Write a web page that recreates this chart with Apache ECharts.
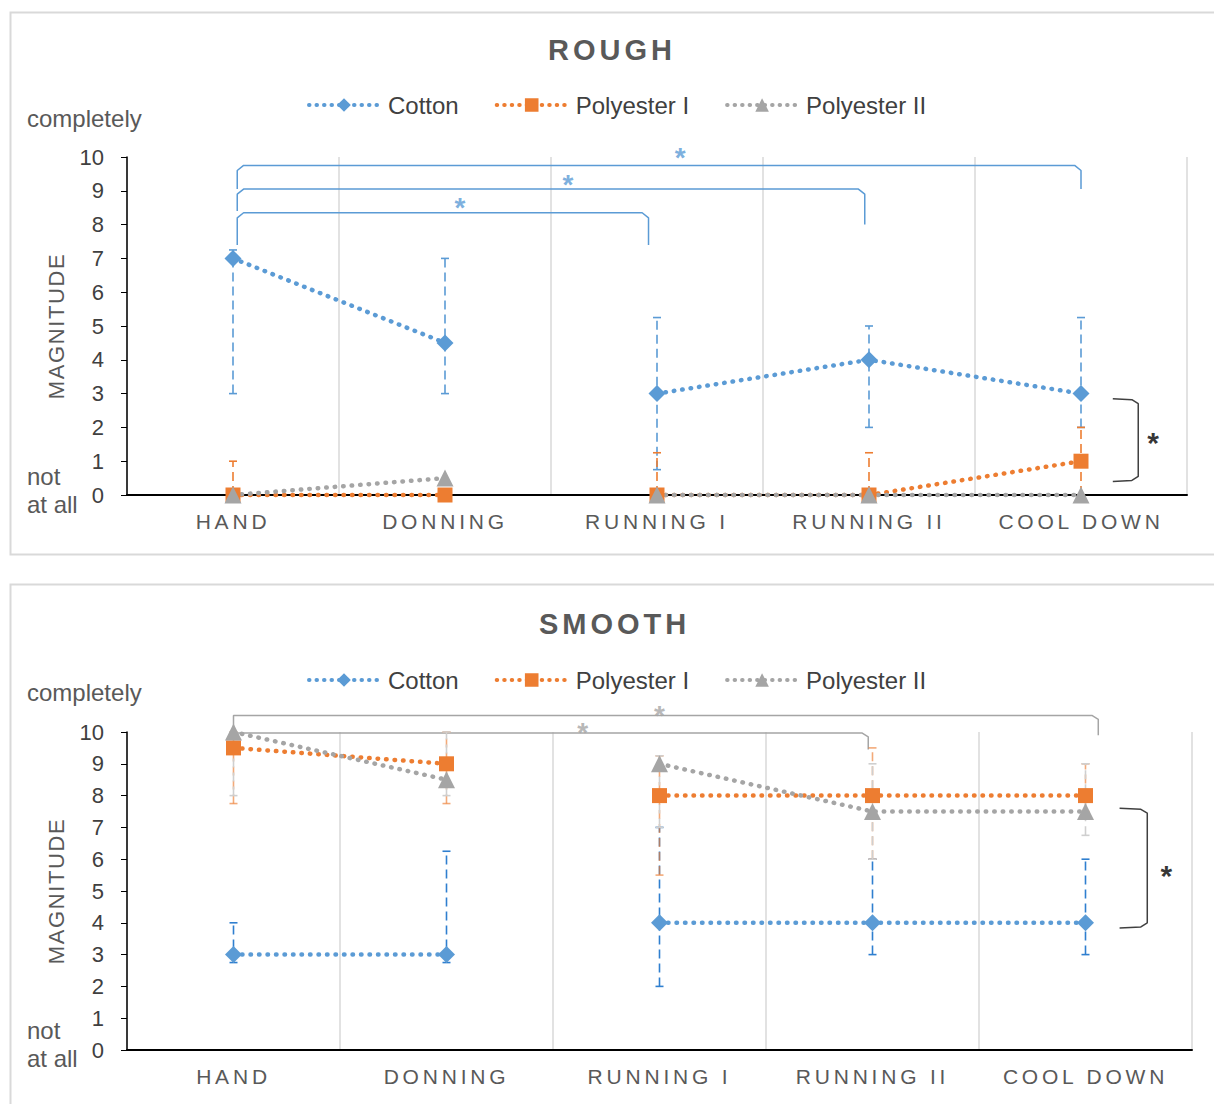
<!DOCTYPE html>
<html><head><meta charset="utf-8">
<script src="https://cdn.jsdelivr.net/npm/echarts@6/dist/echarts.min.js"></script>
<style>html,body{margin:0;padding:0;background:#fff}#c{width:1214px;height:1104px}</style>
</head><body><div id="c"></div>
<script>
const categories = ['HAND', 'DONNING', 'RUNNING I', 'RUNNING II', 'COOL DOWN'];
const yTicks = [0,1,2,3,4,5,6,7,8,9,10];
const seriesNames = ['Cotton', 'Polyester I', 'Polyester II'];

// ROUGH
const roughCotton     = [7, 4.5, 3, 4, 3];
const roughCottonLow  = [3, 3, 0.75, 2, 2];
const roughCottonHigh = [7.25, 7, 5.25, 5, 5.25];
const roughPolyI      = [0, 0, 0, 0, 1];
const roughPolyILow   = [0, 0, 0, 0, 0];
const roughPolyIHigh  = [1, 0, 1.25, 1.25, 2];
const roughPolyII     = [0, 0.5, 0, 0, 0];
const roughPolyIILow  = [0, 0.5, 0, 0, 0];
const roughPolyIIHigh = [0, 0.5, 0, 0, 0];

// SMOOTH
const smoothCotton     = [3, 3, 4, 4, 4];
const smoothCottonLow  = [2.75, 2.75, 2, 3, 3];
const smoothCottonHigh = [4, 6.25, 7, 6, 6];
const smoothPolyI      = [9.5, 9, 8, 8, 8];
const smoothPolyILow   = [7.75, 7.75, 5.5, 6, 7.5];
const smoothPolyIHigh  = [10, 10, 9.25, 9.5, 9];
const smoothPolyII     = [10, 8.5, 9, 7.5, 7.5];
const smoothPolyIILow  = [8, 8, 7, 6, 6.75];
const smoothPolyIIHigh = [10, 10, 9.25, 9, 9];

// significance brackets, in [category position, value]
const roughBrackets = [
  [[0.02, 7.4], [0.02, 8.2], [0.05, 8.35], [1.93, 8.35], [1.96, 8.2], [1.96, 7.4]],
  [[0.02, 8.4], [0.02, 8.9], [0.05, 9.05], [2.95, 9.05], [2.98, 8.9], [2.98, 8.0]],
  [[0.02, 9.05], [0.02, 9.6], [0.05, 9.75], [3.97, 9.75], [4.0, 9.6], [4.0, 9.05]]
];
const roughStars = [[1.07, 8.5], [1.58, 9.18], [2.11, 9.98]];
const roughSide = [[4.15, 2.85], [4.24, 2.82], [4.27, 2.7], [4.27, 0.55], [4.24, 0.43], [4.15, 0.4]];
const roughSideStar = [[4.34, 1.55]];

const smoothBrackets = [
  [[0.0, 10.0], [0.0, 10.52], [4.03, 10.52], [4.06, 10.4], [4.06, 9.9]],
  [[0.0, 9.97], [2.95, 9.97], [2.98, 9.85], [2.98, 9.45]]
];
const smoothStars = [[2.0, 10.52], [1.64, 9.98]];
const smoothSide = [[4.16, 7.6], [4.26, 7.57], [4.29, 7.45], [4.29, 4.0], [4.26, 3.87], [4.16, 3.84]];
const smoothSideStar = [[4.38, 5.5]];

const FONT = 'Liberation Sans';
const BLUE = '#5b9bd5', ORANGE = '#ed7d31', GRAY = '#a5a5a5';

function lineSegs(name, values, color, symbol, size, gi) {
  const segA = values.map((v, i) => i <= 1 ? v : null);
  const segB = values.map((v, i) => i >= 2 ? v : null);
  return [segA, segB].map(d => ({
    type: 'line', name: name, xAxisIndex: gi, yAxisIndex: gi, data: d,
    symbol: symbol, symbolSize: size, showSymbol: true, connectNulls: false,
    itemStyle: {color: color},
    lineStyle: {color: color, width: 4.5, type: [0.5, 8], cap: 'round'},
    z: 3, animation: false, clip: false
  }));
}

function errSeries(low, high, color, gi) {
  const data = categories.map((c, i) => [i, low[i], high[i]]);
  return {
    type: 'custom', xAxisIndex: gi, yAxisIndex: gi, data: data, z: 2, silent: true,
    encode: {x: 0, y: [1, 2]}, animation: false, clip: false,
    renderItem: function (params, api) {
      const x = api.value(0), lo = api.value(1), hi = api.value(2);
      if (lo === hi) return {type: 'group', children: []};
      const p1 = api.coord([x, lo]), p2 = api.coord([x, hi]);
      const st = {stroke: color, lineWidth: 1.6, lineDash: [9, 5], fill: null};
      const cs = {stroke: color, lineWidth: 1.6, fill: null};
      return {type: 'group', children: [
        {type: 'line', shape: {x1: p1[0], y1: p1[1], x2: p2[0], y2: p2[1]}, style: st},
        {type: 'line', shape: {x1: p1[0] - 4, y1: p1[1], x2: p1[0] + 4, y2: p1[1]}, style: cs},
        {type: 'line', shape: {x1: p2[0] - 4, y1: p2[1], x2: p2[0] + 4, y2: p2[1]}, style: cs}
      ]};
    }
  };
}

function bracket(pts, color, gi) {
  return {type: 'line', xAxisIndex: gi + 2, yAxisIndex: gi, data: pts, symbol: 'none',
    lineStyle: {color: color, width: 1.5}, clip: false, silent: true, animation: false, z: 1};
}
function stars(pts, color, gi, bold, size) {
  return {type: 'scatter', xAxisIndex: gi + 2, yAxisIndex: gi, data: pts, symbolSize: 1,
    itemStyle: {color: 'rgba(0,0,0,0)'}, silent: true, animation: false, clip: false, z: 4,
    label: {show: true, position: 'inside', formatter: '*', color: color,
      fontSize: size, fontWeight: bold ? 'bold' : 'normal', fontFamily: FONT}};
}

function xAx(gi) {
  return {type: 'category', gridIndex: gi, data: categories, boundaryGap: true,
    axisLine: {onZero: false, lineStyle: {color: '#000', width: 2}}, axisTick: {show: false},
    axisLabel: {fontSize: 21, color: '#595959', margin: 16, fontFamily: FONT},
    splitLine: {show: true, lineStyle: {color: '#d9d9d9', width: 1.5}}};
}
function yAx(gi) {
  return {type: 'value', gridIndex: gi, min: 0, max: 10, interval: 1,
    axisLine: {show: true, onZero: false, lineStyle: {color: '#000', width: 1.5}},
    axisTick: {show: true, length: 6, lineStyle: {color: '#000'}},
    axisLabel: {fontSize: 22, color: '#404040', margin: 23, fontFamily: FONT,
      formatter: v => String(yTicks[v])},
    splitLine: {show: false},
    name: 'MAGNITUDE', nameLocation: 'middle', nameGap: 60, nameRotate: 90,
    nameTextStyle: {fontSize: 22, color: '#595959', fontFamily: FONT}};
}
function legend(top) {
  return {data: seriesNames, top: top, left: 302, itemWidth: 70, itemHeight: 17, itemGap: 36,
    lineStyle: {width: 4, type: [0.5, 7], cap: 'round'},
    textStyle: {fontSize: 24, color: '#404040', fontFamily: FONT, padding: [0, 0, 0, 4]}, selectedMode: false};
}
function sideText(txt, top) {
  return {type: 'text', left: 27, top: top, style: {text: txt, fontSize: 24, fill: '#595959', fontFamily: FONT}};
}

const series = [].concat(
  errSeries(roughCottonLow, roughCottonHigh, BLUE, 0),
  errSeries(roughPolyILow, roughPolyIHigh, ORANGE, 0),
  errSeries(roughPolyIILow, roughPolyIIHigh, '#c9c9c9', 0),
  lineSegs('Cotton', roughCotton, BLUE, 'diamond', 17, 0),
  lineSegs('Polyester I', roughPolyI, ORANGE, 'rect', 15, 0),
  lineSegs('Polyester II', roughPolyII, GRAY, 'triangle', 17, 0),
  roughBrackets.map(b => bracket(b, BLUE, 0)),
  stars(roughStars, BLUE, 0, true, 28),
  bracket(roughSide, '#404040', 0),
  stars(roughSideStar, '#000', 0, true, 30),

  errSeries(smoothCottonLow, smoothCottonHigh, '#2f7fcf', 1),
  errSeries(smoothPolyILow, smoothPolyIHigh, 'rgba(237,125,49,0.65)', 1),
  errSeries(smoothPolyIILow, smoothPolyIIHigh, '#cfcfcf', 1),
  lineSegs('Cotton', smoothCotton, BLUE, 'diamond', 17, 1),
  lineSegs('Polyester I', smoothPolyI, ORANGE, 'rect', 15, 1),
  lineSegs('Polyester II', smoothPolyII, GRAY, 'triangle', 17, 1),
  smoothBrackets.map(b => bracket(b, GRAY, 1)),
  stars(smoothStars, GRAY, 1, true, 28),
  bracket(smoothSide, '#404040', 1),
  stars(smoothSideStar, '#000', 1, true, 30)
);

const chart = echarts.init(document.getElementById('c'), null, {renderer: 'svg'});
chart.setOption({
  animation: false,
  backgroundColor: '#fff',
  title: [
    {text: 'ROUGH', left: 543, top: 30, textStyle: {fontSize: 29, fontWeight: 'bold', color: '#595959', fontFamily: FONT}},
    {text: 'SMOOTH', left: 534, top: 604, textStyle: {fontSize: 29, fontWeight: 'bold', color: '#595959', fontFamily: FONT}}
  ],
  legend: [legend(88), legend(663)],
  grid: [
    {left: 127, top: 157, width: 1060, height: 338},
    {left: 127, top: 732, width: 1065, height: 318}
  ],
  xAxis: [xAx(0), xAx(1),
    {type: 'value', gridIndex: 0, min: -0.5, max: 4.5, show: false},
    {type: 'value', gridIndex: 1, min: -0.5, max: 4.5, show: false}],
  yAxis: [yAx(0), yAx(1)],
  graphic: [
    {type: 'rect', left: 8, top: 10, shape: {width: 1205, height: 542}, style: {fill: 'none', stroke: '#d9d9d9', lineWidth: 2}, z: -1},
    {type: 'rect', left: 8, top: 582, shape: {width: 1205, height: 600}, style: {fill: 'none', stroke: '#d9d9d9', lineWidth: 2}, z: -1},
    sideText('completely', 106), sideText('not', 464), sideText('at all', 492),
    sideText('completely', 680), sideText('not', 1018), sideText('at all', 1046)
  ],
  series: series
});

// letter spacing for the spaced-out labels (real text kept)
const spacing = {'ROUGH': 4, 'SMOOTH': 4, 'MAGNITUDE': 1.6};
categories.forEach(c => spacing[c] = 3.8);
function applySpacing() {
  document.querySelectorAll('#c svg text').forEach(t => {
    const s = spacing[t.textContent];
    if (s !== undefined) t.setAttribute('letter-spacing', s);
  });
}
applySpacing();
chart.on('finished', applySpacing);
</script></body></html>
